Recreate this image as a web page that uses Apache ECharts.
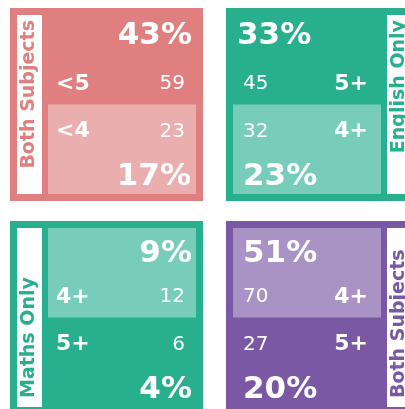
<!DOCTYPE html>
<html>
<head>
<meta charset="utf-8">
<script src="https://cdn.jsdelivr.net/npm/echarts@6/dist/echarts.min.js"></script>
<style>
html,body{margin:0;padding:0;background:#fff;}
#chart{width:405px;height:409px;}
</style>
</head>
<body>
<div id="chart"></div>
<script>
// ---- data ----
const panelTitles = ['Both Subjects', 'English Only', 'Maths Only', 'Both Subjects'];
const gradeLabels = [['<5', '<4'], ['5+', '4+'], ['4+', '5+'], ['4+', '5+']];
const counts = [[59, 23], [45, 32], [12, 6], [70, 27]];
const percents = [[43, 17], [33, 23], [9, 4], [51, 20]];
const highlightHalf = ['bottom', 'bottom', 'top', 'top'];
const rowNames = ['r0', 'r1', 'r2', 'r3'];

// ---- layout / style ----
const W = 405, H = 409, PANEL = 193;
const panelPos = [{left: 10, top: 8}, {left: 226, top: 8}, {left: 10, top: 221}, {left: 226, top: 221}];
const stripSide = ['left', 'right', 'left', 'right'];
const palette = [
  {main: '#E07F7F', light: '#EBAEAE'},
  {main: '#28AF8E', light: '#77CDB9'},
  {main: '#28AF8E', light: '#77CDB9'},
  {main: '#7A58A4', light: '#A992C4'}
];
const pctInset = [[11, 12], [11, 17], [11, 11], [17, 17]];
const FONT = '"DejaVu Sans", Verdana, sans-serif';

function makeRender(p) {
  return function (params, api) {
    const idx = params.dataIndex;
    const band = api.size([0, 1])[1];
    const xl = api.coord([0, 0])[0];
    const xr = api.coord([1, 0])[0];
    const yTop = api.coord([0, 0])[1] - band / 2;
    const yBot = api.coord([0, 3])[1] + band / 2;
    const left = stripSide[p] === 'left';
    const c = palette[p];
    const children = [];
    if (idx === 0) {
      children.push({type: 'rect', z2: 0,
        shape: {x: xl, y: yTop, width: xr - xl, height: yBot - yTop},
        style: {fill: c.main}});
    }
    if (idx < 4) {
      const r = api.value(1);
      const yc = api.coord([0, r])[1];
      if (r === 0 || r === 3) {
        const k = r === 0 ? 0 : 1;
        const hl = (r === 0 && highlightHalf[p] === 'top') || (r === 3 && highlightHalf[p] === 'bottom');
        const dy = r === 0 ? (hl ? 9 : 4) : 0;
        const inset = pctInset[p][k];
        children.push({type: 'text', z2: 5,
          x: left ? xr - inset : xl + inset, y: yc + dy,
          style: {text: percents[p][k] + '%', fill: '#fff', fontSize: 31, fontWeight: 'bold',
            fontFamily: FONT, align: left ? 'right' : 'left', verticalAlign: 'middle'}});
      } else {
        const k = r - 1;
        const dy = r === 1 ? 3.5 : 3;
        children.push({type: 'text', z2: 5,
          x: left ? xl + 46 : xl + 142, y: yc + dy,
          style: {text: gradeLabels[p][k], fill: '#fff', fontSize: 22, fontWeight: 'bold',
            fontFamily: FONT, align: left ? 'left' : 'right', verticalAlign: 'middle'}});
        children.push({type: 'text', z2: 5,
          x: left ? xl + 175 : xl + 17, y: yc + dy,
          style: {text: String(counts[p][k]), fill: '#fff', fontSize: 20, fontWeight: 'normal',
            fontFamily: FONT, align: left ? 'right' : 'left', verticalAlign: 'middle'}});
      }
    } else if (idx === 4) {
      const top = highlightHalf[p] === 'top';
      const y0 = top ? yTop + 7 : api.coord([0, 2])[1] - band / 2;
      const y1 = top ? api.coord([0, 1])[1] + band / 2 : yBot - 7;
      const x0 = left ? xl + 38 : xl + 7;
      const x1 = left ? xr - 7 : xr - 38;
      children.push({type: 'rect', z2: 1,
        shape: {x: x0, y: y0, width: x1 - x0, height: y1 - y0},
        style: {fill: c.light}});
    } else {
      const x0 = left ? xl + 7 : xr - 32;
      children.push({type: 'rect', z2: 2,
        shape: {x: x0, y: yTop + 7, width: 25, height: yBot - yTop - 14},
        style: {fill: '#fff'}});
      const topPanel = p < 2;
      children.push({type: 'text', z2: 6,
        x: x0 + 12.5, y: topPanel ? yTop + 12 : yTop + 177, rotation: Math.PI / 2,
        style: {text: panelTitles[p], fill: c.main, fontSize: 19, fontWeight: 'bold',
          fontFamily: FONT, align: topPanel ? 'right' : 'left', verticalAlign: 'middle'}});
    }
    return {type: 'group', children: children};
  };
}

const grids = [], xAxes = [], yAxes = [], series = [];
for (let p = 0; p < 4; p++) {
  const L = panelPos[p].left, T = panelPos[p].top;
  grids.push({left: L, top: T, width: PANEL, height: PANEL,
    outerBoundsMode: 'none', containLabel: false});
  xAxes.push({type: 'value', gridIndex: p, min: 0, max: 1, show: false});
  yAxes.push({type: 'category', gridIndex: p, data: rowNames, inverse: true, show: false});
  series.push({
    type: 'custom', xAxisIndex: p, yAxisIndex: p, silent: true, animation: false, clip: false,
    renderItem: makeRender(p),
    data: [[0, 0], [0, 1], [0, 2], [0, 3], [0, 0], [0, 0]]
  });
}

const chart = echarts.init(document.getElementById('chart'), null, {renderer: 'canvas'});
chart.setOption({
  animation: false,
  backgroundColor: '#fff',
  grid: grids, xAxis: xAxes, yAxis: yAxes, series: series
});
</script>
</body>
</html>
